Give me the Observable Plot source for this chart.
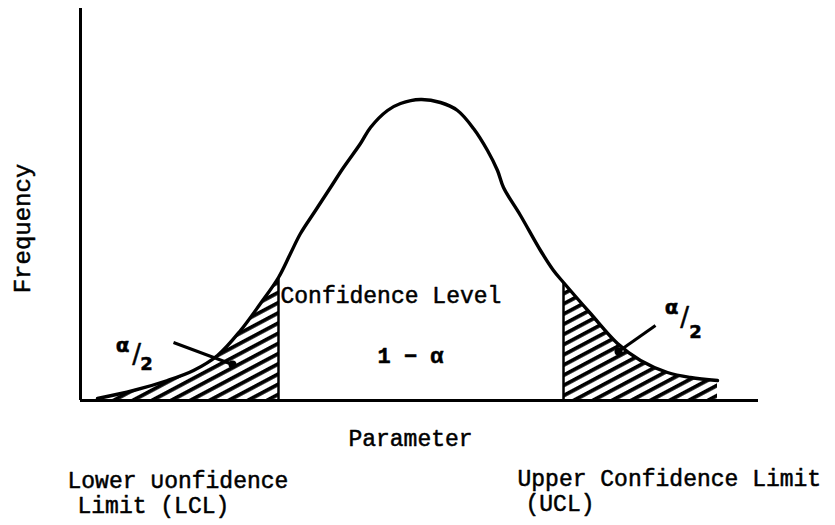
<!DOCTYPE html>
<html>
<head>
<meta charset="utf-8">
<script src="https://cdn.jsdelivr.net/npm/d3@7"></script>
<script src="https://cdn.jsdelivr.net/npm/@observablehq/plot@0.6"></script>
<style>
  html, body { margin: 0; padding: 0; background: white; }
</style>
</head>
<body>
<div id="chart"></div>
<script>
// Distribution curve (arbitrary parameter / frequency units)
const parameter = [1.7,5.3,8.7,11.3,13.7,16.0,18.0,19.8,21.0,22.0,23.5,25.0,26.3,28.0,29.0,30.7,32.0,34.0,36.0,37.7,39.3,40.7,41.7,42.3,44.0,46.0,47.3,48.3,51.0,53.7,56.0,58.7,61.0,63.7];
const frequency = [0.2,1.0,2.0,3.0,4.5,7.0,9.7,12.3,14.7,16.7,19.0,21.3,23.3,25.7,27.3,29.0,29.7,30.1,29.8,29.0,27.2,25.0,23.0,21.3,18.5,15.0,13.0,11.8,8.7,5.7,4.0,2.8,2.3,2.0];
const lcl = 19.8;
const ucl = 48.3;

// Text labels
const yLabel = "Frequency";
const xLabel = "Parameter";
const centerLabel = "Confidence Level";
const centerValue = "1 − α";
const lowerLabel = ["Lower ∪onfidence", "Limit (LCL)"];
const upperLabel = ["Upper Confidence Limit", "(UCL)"];
const tailLabel = ["α", "/", "2"];

const curve = parameter.map((x, i) => ({x, y: frequency[i]}));
const leftTail = curve.filter(d => d.x <= lcl);
const rightTail = curve.filter(d => d.x >= ucl);
const fAt = v => curve.find(d => d.x === v).y;

const font = "Liberation Mono, DejaVu Sans Mono, monospace";
const txt = (s, o) => Plot.text([s], {text: d => d, fontFamily: font, fill: "black", stroke: "black", strokeWidth: 0.5, ...o});

const chart = Plot.plot({
  width: 835,
  height: 525,
  marginLeft: 80,
  marginRight: 77,
  marginTop: 8,
  marginBottom: 125,
  x: {domain: [0, 67.8], axis: null},
  y: {domain: [0, 39.2], axis: null},
  style: {background: "white", overflow: "visible"},
  marks: [
    // hatched tails
    Plot.areaY(leftTail, {x: "x", y: "y", fill: "url(#hatch)", curve: "catmull-rom"}),
    Plot.areaY(rightTail, {x: "x", y: "y", fill: "url(#hatch)", curve: "catmull-rom"}),
    // confidence limits
    Plot.ruleX([lcl], {x: d => d, y1: 0, y2: fAt(lcl), stroke: "black", strokeWidth: 2.5}),
    Plot.ruleX([ucl], {x: d => d, y1: 0, y2: fAt(ucl), stroke: "black", strokeWidth: 2.5}),
    // axes
    Plot.ruleX([0], {y1: 0, y2: 39.2, stroke: "black", strokeWidth: 3}),
    Plot.ruleY([0], {x1: 0, x2: 67.8, stroke: "black", strokeWidth: 3}),
    // curve
    Plot.line(curve, {x: "x", y: "y", stroke: "black", strokeWidth: 3.4, curve: "catmull-rom", strokeLinecap: "round"}),
    // pointers to tails
    Plot.link([0], {x1: 9.3, y1: 5.8, x2: 15.2, y2: 3.6, stroke: "black", strokeWidth: 3}),
    Plot.dot([0], {x: 15.2, y: 3.6, r: 4, fill: "black"}),
    Plot.link([0], {x1: 57.5, y1: 7.5, x2: 53.8, y2: 4.9, stroke: "black", strokeWidth: 3}),
    Plot.dot([0], {x: 53.8, y: 4.9, r: 4, fill: "black"}),
    // labels
    txt(yLabel, {x: -5.8, y: 17.2, rotate: -90, fontSize: 24}),
    txt(xLabel, {x: 33, y: -4.5, textAnchor: "middle", lineAnchor: "bottom", fontSize: 23}),
    txt(centerLabel, {x: 20, y: 9.8, textAnchor: "start", lineAnchor: "bottom", fontSize: 23}),
    txt(centerValue, {x: 33, y: 3.8, textAnchor: "middle", lineAnchor: "bottom", fontSize: 22, fontWeight: "bold"}),
    txt(lowerLabel[0], {x: -1.3, y: -8.7, textAnchor: "start", lineAnchor: "bottom", fontSize: 23}),
    txt(lowerLabel[1], {x: -0.3, y: -11.2, textAnchor: "start", lineAnchor: "bottom", fontSize: 23}),
    txt(upperLabel[0], {x: 43.7, y: -8.5, textAnchor: "start", lineAnchor: "bottom", fontSize: 23}),
    txt(upperLabel[1], {x: 44.5, y: -11.0, textAnchor: "start", lineAnchor: "bottom", fontSize: 23}),
    // alpha/2 left
    txt(tailLabel[0], {x: 4.2, y: 5.5, fontSize: 20, fontWeight: "bold", fontFamily: "DejaVu Sans"}),
    txt(tailLabel[1], {x: 5.6, y: 4.6, fontSize: 26, fontFamily: "DejaVu Sans"}),
    txt(tailLabel[2], {x: 6.6, y: 3.6, fontSize: 18, fontWeight: "bold", fontFamily: "DejaVu Sans"}),
    // alpha/2 right
    txt(tailLabel[0], {x: 59.1, y: 9.3, fontSize: 20, fontWeight: "bold", fontFamily: "DejaVu Sans"}),
    txt(tailLabel[1], {x: 60.4, y: 8.3, fontSize: 26, fontFamily: "DejaVu Sans"}),
    txt(tailLabel[2], {x: 61.5, y: 6.8, fontSize: 18, fontWeight: "bold", fontFamily: "DejaVu Sans"})
  ]
});

const svg = d3.select(chart);
svg.insert("defs", ":first-child").html(
  '<pattern id="hatch" patternUnits="userSpaceOnUse" width="9" height="9" patternTransform="rotate(-28)">' +
  '<rect x="0" y="0" width="9" height="3.8" fill="black"></rect></pattern>'
);
document.getElementById("chart").appendChild(chart);
</script>
</body>
</html>
